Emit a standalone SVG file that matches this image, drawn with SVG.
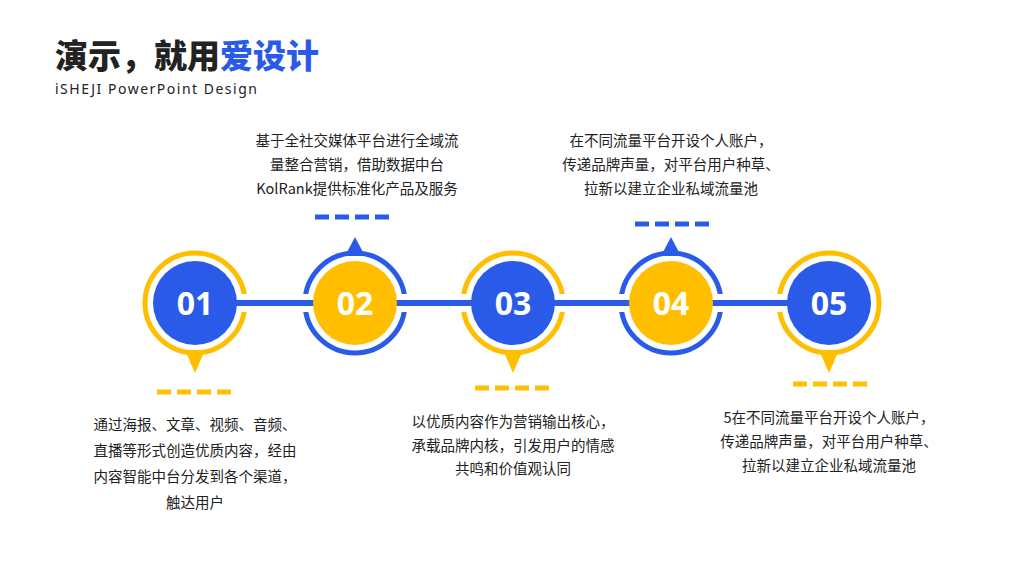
<svg xmlns="http://www.w3.org/2000/svg" width="1024" height="576" viewBox="0 0 1024 576">
<style>
.t{font-family:"Noto Sans CJK SC","Noto Sans",sans-serif;font-size:14.5px;fill:#222;text-anchor:middle}
.n{font-family:"Noto Sans","Open Sans",sans-serif;font-weight:700;font-size:32px;fill:#fff;text-anchor:middle}
.y{fill:#FFBF00}.b{fill:#2A5BE8}
.ry{fill:none;stroke:#FFBF00;stroke-width:5}.rb{fill:none;stroke:#2A5BE8;stroke-width:5}
.dy{stroke:#FFBF00;stroke-width:5;stroke-dasharray:14 6}.db{stroke:#2A5BE8;stroke-width:5;stroke-dasharray:14 6}
</style>
<rect width="1024" height="576" fill="#fff"/>
<text x="55" y="68" font-family="Noto Sans CJK SC,sans-serif" font-weight="900" font-size="33" fill="#222">演示，就用<tspan fill="#2A5BE8">爱设计</tspan></text>
<text x="55" y="94" font-family="Noto Sans,sans-serif" font-size="14" letter-spacing="1.5" fill="#222">iSHEJI PowerPoint Design</text>
<g id="n1"><circle cx="195" cy="303" r="50" class="ry"/><polygon points="185,350 205,350 195,373" class="y"/></g>
<g id="n2"><circle cx="355" cy="303" r="50" class="rb"/><polygon points="345,256 365,256 355,237" class="b"/></g>
<g id="n3"><circle cx="513" cy="303" r="50" class="ry"/><polygon points="503,350 523,350 513,373" class="y"/></g>
<g id="n4"><circle cx="671" cy="303" r="50" class="rb"/><polygon points="661,256 681,256 671,237" class="b"/></g>
<g id="n5"><circle cx="829" cy="303" r="50" class="ry"/><polygon points="819,350 839,350 829,373" class="y"/></g>
<g id="connectors">
<line x1="195" y1="303" x2="829" y2="303" stroke="#fff" stroke-width="18"/>
<line x1="195" y1="303" x2="829" y2="303" stroke="#2A5BE8" stroke-width="6"/>
</g>
<g>
<circle cx="195" cy="303" r="42" class="b"/><text x="195" y="315" class="n">01</text>
<circle cx="355" cy="303" r="42" class="y"/><text x="355" y="315" class="n">02</text>
<circle cx="513" cy="303" r="42" class="b"/><text x="513" y="315" class="n">03</text>
<circle cx="671" cy="303" r="42" class="y"/><text x="671" y="315" class="n">04</text>
<circle cx="829" cy="303" r="42" class="b"/><text x="829" y="315" class="n">05</text>
</g>
<line x1="157" y1="392" x2="234" y2="392" class="dy"/>
<line x1="315" y1="217" x2="392" y2="217" class="db"/>
<line x1="475" y1="388" x2="552" y2="388" class="dy"/>
<line x1="635" y1="224" x2="712" y2="224" class="db"/>
<line x1="793" y1="384" x2="870" y2="384" class="dy"/>
<text class="t"><tspan x="195" y="430">通过海报、文章、视频、音频、</tspan><tspan x="195" y="456">直播等形式创造优质内容，经由</tspan><tspan x="195" y="482">内容智能中台分发到各个渠道，</tspan><tspan x="195" y="508">触达用户</tspan></text>
<text class="t"><tspan x="357" y="146">基于全社交媒体平台进行全域流</tspan><tspan x="357" y="170">量整合营销，借助数据中台</tspan><tspan x="357" y="194">KolRank提供标准化产品及服务</tspan></text>
<text class="t"><tspan x="513" y="427">以优质内容作为营销输出核心，</tspan><tspan x="513" y="451">承载品牌内核，引发用户的情感</tspan><tspan x="513" y="474">共鸣和价值观认同</tspan></text>
<text class="t"><tspan x="671" y="146">在不同流量平台开设个人账户，</tspan><tspan x="671" y="170">传递品牌声量，对平台用户种草、</tspan><tspan x="671" y="194">拉新以建立企业私域流量池</tspan></text>
<text class="t"><tspan x="829" y="423">5在不同流量平台开设个人账户，</tspan><tspan x="829" y="447">传递品牌声量，对平台用户种草、</tspan><tspan x="829" y="471">拉新以建立企业私域流量池</tspan></text>
</svg>
